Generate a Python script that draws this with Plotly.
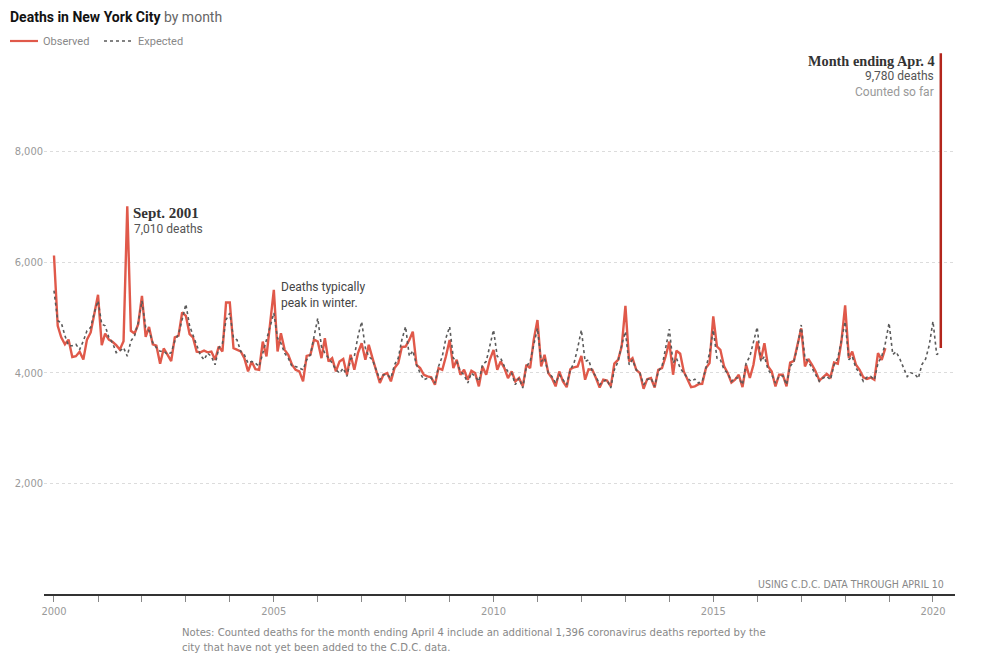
import plotly.graph_objects as go
import pandas as pd

# ---------------- data ----------------
months = pd.date_range("2000-01-01", periods=243, freq="MS")

observed = [
    6120, 4850, 4640, 4515, 4600, 4285, 4300, 4380, 4240, 4600, 4730, 5060,
    5410, 4500, 4710, 4600, 4560, 4500, 4420, 4570, 7010, 4760, 4710, 4880,
    5390, 4650, 4830, 4515, 4490, 4165, 4440, 4330, 4210, 4640, 4670, 5090,
    5030, 4700, 4640, 4380, 4370, 4400, 4370, 4385, 4235, 4475, 4385, 5270,
    5270, 4445, 4415, 4385, 4265, 4025, 4205, 4065, 4055, 4565, 4295, 4865,
    5500, 4385, 4715, 4415, 4325, 4145, 4055, 4025, 3845, 4305, 4325, 4600,
    4565, 4265, 4625, 4205, 4265, 4025, 4205, 4250, 3965, 4325, 4055, 4355,
    4535, 4235, 4505, 4265, 4055, 3815, 3965, 3995, 3845, 4085, 4175, 4465,
    4475, 4595, 4745, 4145, 4085, 3965, 3935, 3920, 3785, 4085, 4055, 4295,
    4595, 4085, 4235, 3965, 4055, 3875, 4035, 3995, 3755, 4115, 3965, 4235,
    4415, 4055, 4205, 4085, 3905, 4025, 3845, 3905, 3755, 4145, 4085, 4595,
    4955, 4115, 4325, 3995, 3905, 3755, 4025, 3845, 3740, 4065, 4100, 4115,
    4305, 3875, 4065, 4055, 3905, 3735, 3875, 3860, 3755, 4165, 4235, 4475,
    5210, 4205, 4265, 4055, 3995, 3710, 3885, 3905, 3735, 4055, 4085, 4295,
    4565, 3965, 4400, 4345, 4025, 3875, 3740, 3755, 3795, 3800, 4085, 4175,
    5020, 4475, 4415, 4115, 3995, 3825, 3875, 3965, 3740, 4145, 3905, 4145,
    4565, 4235, 4535, 4115, 4025, 3755, 3965, 3965, 3755, 4185, 4215, 4505,
    4805, 4115, 4250, 4145, 4025, 3860, 3920, 3980, 3920, 4185, 4165, 4565,
    5220, 4265, 4385, 4145, 4055, 3920, 3890, 3915, 3875, 4355, 4235, 4445,
]

expected = [
    5485, 4940, 4910, 4670, 4490, 4490, 4515, 4420, 4575, 4760, 4820, 5090,
    5300, 4880, 4850, 4640, 4545, 4365, 4390, 4455, 4300, 4575, 4670, 4910,
    5300, 4820, 4760, 4545, 4455, 4390, 4390, 4330, 4365, 4575, 4700, 4970,
    5240, 4850, 4700, 4500, 4325, 4235, 4355, 4295, 4145, 4445, 4535, 4960,
    5080, 4625, 4595, 4385, 4325, 4175, 4205, 4175, 4115, 4355, 4565, 4840,
    5080, 4625, 4535, 4355, 4265, 4115, 4115, 4085, 4055, 4235, 4325, 4655,
    4985, 4475, 4355, 4265, 4175, 4055, 3995, 4085, 3935, 4250, 4295, 4655,
    4925, 4445, 4295, 4235, 4055, 3875, 3965, 3965, 3905, 4145, 4265, 4595,
    4835, 4300, 4400, 4145, 3995, 3875, 3905, 3905, 3815, 4115, 4295, 4625,
    4835, 4265, 4205, 4025, 3965, 3815, 3995, 3935, 3845, 4145, 4205, 4505,
    4775, 4295, 4265, 4115, 4025, 3995, 3785, 3905, 3725, 4115, 4205, 4505,
    4805, 4205, 4265, 3995, 3935, 3815, 3965, 3875, 3785, 4055, 4175, 4445,
    4775, 4205, 4235, 4025, 3935, 3785, 3845, 3875, 3725, 4055, 4205, 4505,
    4745, 4145, 4235, 4055, 3995, 3785, 3875, 3905, 3755, 4025, 4115, 4445,
    4790, 4175, 4265, 4085, 3995, 3905, 3845, 3885, 3815, 3845, 4085, 4355,
    4775, 4265, 4235, 4055, 3995, 3845, 3905, 3905, 3785, 4175, 4295, 4535,
    4825, 4205, 4295, 4055, 3965, 3815, 3935, 3945, 3785, 4115, 4205, 4475,
    4865, 4265, 4205, 4085, 3965, 3845, 3905, 3935, 3875, 4145, 4265, 4595,
    4925, 4235, 4295, 4085, 3995, 3845, 3920, 3935, 3875, 4175, 4295, 4535,
    4900, 4330, 4380, 4250, 4100, 3930, 4000, 3980, 3900, 4150, 4250, 4500,
    4930, 4330, 4380,
]

# latest month (ending Apr. 4, 2020), counted so far
recent_x = ["2020-03-06", "2020-03-06"]
recent_y = [4450, 9780]

tick_years = list(range(2000, 2021))
labeled_years = [2000, 2005, 2010, 2015, 2020]
y_ticks = [2000, 4000, 6000, 8000]

# ---------------- layout helpers ----------------
W, H = 1007, 661
L, R, T, B = 44, 52, 41, 67
PW, PH = W - L - R, H - T - B


def px(xp):
    return (xp - L) / PW


def py(yp):
    return 1 - (yp - T) / PH


SANS = "Roboto, 'Liberation Sans', Arial, sans-serif"
NARROW = "'Liberation Sans Narrow', 'DejaVu Sans Condensed', 'Roboto', sans-serif"
SERIF = "'Liberation Serif', 'DejaVu Serif', serif"

RED = "#e0594a"
DARKRED = "#b3261c"
GRAY = "#5a5a5a"

fig = go.Figure()

fig.add_trace(go.Scatter(
    x=months[:len(observed)], y=observed, mode="lines", name="Observed",
    line=dict(color=RED, width=2.4), hoverinfo="skip", showlegend=False,
))
fig.add_trace(go.Scatter(
    x=months[:len(expected)], y=expected, mode="lines", name="Expected",
    line=dict(color=GRAY, width=1.6, dash="dot"), hoverinfo="skip", showlegend=False,
))
fig.add_trace(go.Scatter(
    x=recent_x, y=recent_y, mode="lines", name="Counted so far",
    line=dict(color=DARKRED, width=2.5), showlegend=False, hoverinfo="skip",
))

tickvals = [f"{y}-01-01" for y in tick_years]
ticktext = [str(y) if y in labeled_years else "" for y in tick_years]

fig.update_xaxes(
    type="date", range=["1999-10-10", "2020-07-02"],
    tickmode="array", tickvals=tickvals, ticktext=ticktext,
    ticks="outside", ticklen=6, tickcolor="#888", tickwidth=1,
    showline=True, linecolor="#333", linewidth=1.5,
    showgrid=False, zeroline=False,
    tickfont=dict(family=NARROW, size=11, color="#999"),
)
fig.update_yaxes(
    range=[0, 10000], tickmode="array", tickvals=y_ticks,
    tickformat=",", showgrid=True, gridcolor="#dcdcdc", griddash="3px,3px",
    gridwidth=1, zeroline=False, showline=False, ticks="",
    tickfont=dict(family=NARROW, size=11, color="#999"),
)

ann = []


def text(x, y, s, size=12, color="#555", family=SANS, xanchor="left", align="left"):
    ann.append(dict(
        xref="paper", yref="paper", x=px(x), y=py(y), text=s, showarrow=False,
        xanchor=xanchor, yanchor="middle", align=align,
        font=dict(family=family, size=size, color=color),
    ))


text(8, 17, "<b>Deaths in New York City</b> <span style='color:#666'>by month</span>",
     size=14, color="#121212")
# legend
text(41, 41, "Observed", size=11, color="#888")
text(136, 41, "Expected", size=11, color="#888")
text(131, 213, "<b>Sept. 2001</b>", size=15, color="#333", family=SERIF)
text(132, 229, "7,010 deaths", size=12, color="#555")
text(279, 295, "Deaths typically<br>peak in winter.", size=12, color="#444")
text(937, 61, "<b>Month ending Apr. 4</b>", size=14.3, color="#333",
     family=SERIF, xanchor="right", align="right")
text(936, 76, "9,780 deaths", size=12, color="#555", xanchor="right", align="right")
text(936, 92, "Counted so far", size=12, color="#999", xanchor="right", align="right")
text(946, 584, "USING C.D.C. DATA THROUGH APRIL 10", size=10.5, color="#888",
     family=NARROW, xanchor="right", align="right")
text(180, 640, "Notes: Counted deaths for the month ending April 4 include an additional "
     "1,396 coronavirus deaths reported by the<br>city that have not yet been added "
     "to the C.D.C. data.", size=11.2, color="#888", family=NARROW)

shapes = [
    dict(type="line", xref="paper", yref="paper", x0=px(10), x1=px(38), y0=py(41), y1=py(41),
         line=dict(color=RED, width=2.2)),
    dict(type="line", xref="paper", yref="paper", x0=px(104), x1=px(133), y0=py(41), y1=py(41),
         line=dict(color=GRAY, width=1.6, dash="dot")),
]

fig.update_layout(
    width=W, height=H, autosize=False,
    margin=dict(l=L, r=R, t=T, b=B, pad=0),
    paper_bgcolor="white", plot_bgcolor="white",
    annotations=ann, shapes=shapes,
    showlegend=False,
)

fig.write_html(
    "out.html",
    config={"displayModeBar": False},
    post_script="document.body.style.margin='0';document.body.style.overflow='hidden';",
)
